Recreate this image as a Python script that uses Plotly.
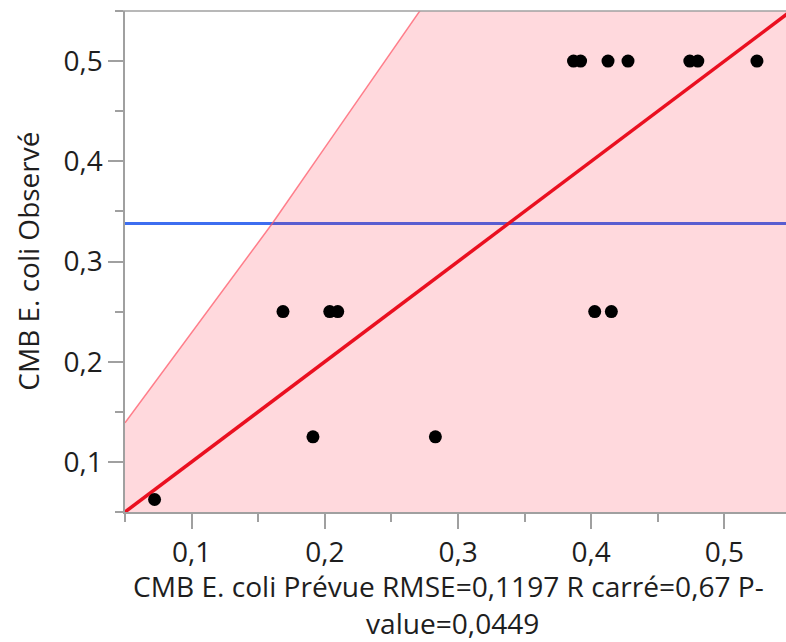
import plotly.graph_objects as go

# Actual by predicted values (CMB E. coli)
predicted = [0.0722, 0.1911, 0.2830, 0.1686, 0.2037, 0.2097, 0.4026, 0.4151,
             0.3867, 0.3920, 0.4126, 0.4276, 0.4740, 0.4800, 0.5244]
observed = [0.0625, 0.125, 0.125, 0.25, 0.25, 0.25, 0.25, 0.25,
            0.5, 0.5, 0.5, 0.5, 0.5, 0.5, 0.5]

# Upper confidence curve read along its length
conf_x = [0.05, 0.1608, 0.20, 0.2711, 0.30]
conf_y = [0.139, 0.3384, 0.4136, 0.549, 0.605]

# Line of fit (actual = predicted) and mean of observed values
fit_intercept = 0.0
fit_slope = 1.0
mean_observed = 0.338

x_range = [0.05, 0.5462]
y_range = [0.05, 0.55]

tick_vals = [0.1, 0.2, 0.3, 0.4, 0.5]
tick_text = ["0,1", "0,2", "0,3", "0,4", "0,5"]

x_title_lines = ["CMB E. coli Prévue RMSE=0,1197 R carré=0,67 P-", "value=0,0449"]
y_title = "CMB E. coli Observé"

FONT = "Open Sans"
TEXT = "#1e1e1e"
AXIS = "#a0a0a0"

fig = go.Figure()

# mean line (drawn under the shaded region)
fig.add_trace(go.Scatter(
    x=[x_range[0] - 0.1, x_range[1] + 0.1], y=[mean_observed, mean_observed],
    mode="lines", line=dict(color="#3d6ef0", width=3), hoverinfo="skip"))

# shaded confidence region below the upper curve
poly_x = conf_x + [0.7, 0.7, conf_x[0]]
poly_y = conf_y + [conf_y[-1], 0.0, 0.0]
fig.add_trace(go.Scatter(
    x=poly_x, y=poly_y, mode="lines", fill="toself",
    fillcolor="rgba(255,0,30,0.15)", line=dict(width=0), hoverinfo="skip"))
fig.add_trace(go.Scatter(
    x=conf_x, y=conf_y, mode="lines",
    line=dict(color="rgba(255,90,105,0.75)", width=1.5), hoverinfo="skip"))

# line of fit
fx = [x_range[0] - 0.01, x_range[1] + 0.01]
fig.add_trace(go.Scatter(
    x=fx, y=[fit_intercept + fit_slope * v for v in fx], mode="lines",
    line=dict(color="#ea1020", width=3.5), hoverinfo="skip"))

# observations
fig.add_trace(go.Scatter(
    x=predicted, y=observed, mode="markers",
    marker=dict(color="black", size=13, line=dict(width=0))))

axis_common = dict(
    showgrid=False, zeroline=False, showline=True, linecolor=AXIS, linewidth=1.5,
    ticks="outside", ticklen=15, tickwidth=1.5, tickcolor=AXIS,
    tickvals=tick_vals, ticktext=tick_text,
    tickfont=dict(family=FONT, size=28, color=TEXT),
    minor=dict(ticks="outside", ticklen=8, tickwidth=1.5, tickcolor=AXIS, dtick=0.05,
               tick0=0.05),
)

fig.update_xaxes(range=x_range, **axis_common)
fig.update_yaxes(range=y_range, **axis_common)

title_font = dict(family=FONT, size=28.1, color=TEXT)

fig.update_layout(
    width=786, height=642,
    margin=dict(l=125, r=0, t=11, b=130),
    plot_bgcolor="white", paper_bgcolor="white",
    showlegend=False,
    shapes=[dict(type="line", xref="paper", yref="paper",
                 x0=-8 / 661, x1=1, y0=1, y1=1,
                 line=dict(color=AXIS, width=1.5))],
    annotations=[
        dict(text=x_title_lines[0], xref="paper", yref="paper", x=0.490, y=-0.1477,
             xanchor="center", yanchor="middle", showarrow=False, font=title_font),
        dict(text=x_title_lines[1], xref="paper", yref="paper", x=0.495, y=-0.2216,
             xanchor="center", yanchor="middle", showarrow=False, font=title_font),
        dict(text=y_title, xref="paper", yref="paper",
             x=-0.148, y=0.5, textangle=-90, xanchor="center", yanchor="middle",
             showarrow=False, font=dict(family=FONT, size=28, color=TEXT)),
    ],
)

fig.write_html("out.html")
